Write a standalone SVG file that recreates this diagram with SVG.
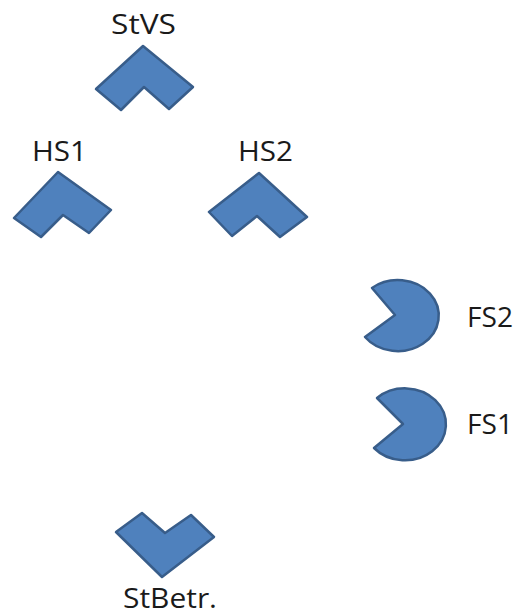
<svg xmlns="http://www.w3.org/2000/svg" width="516" height="611" viewBox="0 0 516 611">
<style>
.s{fill:#4f81bd;stroke:#385d8a;stroke-width:2.5;stroke-linejoin:round}
text{font-family:"Open Sans","Noto Sans","Liberation Sans",sans-serif;font-size:27px;fill:#1a1a1a;text-anchor:start}
</style>
<rect width="516" height="611" fill="#ffffff"/>
<g id="StVS"><polygon class="s" points="143,46 193,87 169,109 144,87 121,110 96,89"/><text x="111" y="34" textLength="65" lengthAdjust="spacingAndGlyphs">StVS</text></g>
<g id="HS1"><polygon class="s" points="58,172 111,210 89,233 63,215 41,237 14,218"/><text x="32" y="161" textLength="55" lengthAdjust="spacingAndGlyphs">HS1</text></g>
<g id="HS2"><polygon class="s" points="259,173 307,217 280,237 257,216 232,236 209,212"/><text x="238" y="161" textLength="55" lengthAdjust="spacingAndGlyphs">HS2</text></g>
<g id="FS2"><path class="s" d="M372,288A41,35.500 0 1 1 365,337L395,315Z"/><text x="467" y="327" textLength="46" lengthAdjust="spacingAndGlyphs">FS2</text></g>
<g id="FS1"><path class="s" d="M377,398A41,36 0 1 1 374,448L403,424Z"/><text x="467" y="434" textLength="46" lengthAdjust="spacingAndGlyphs">FS1</text></g>
<g id="StBetr"><polygon class="s" points="142,513 165,533 191,515 214,537 162,577 116,532"/><text x="123" y="608" textLength="94" lengthAdjust="spacingAndGlyphs">StBetr.</text></g>
<g id="connectors"/>
</svg>
